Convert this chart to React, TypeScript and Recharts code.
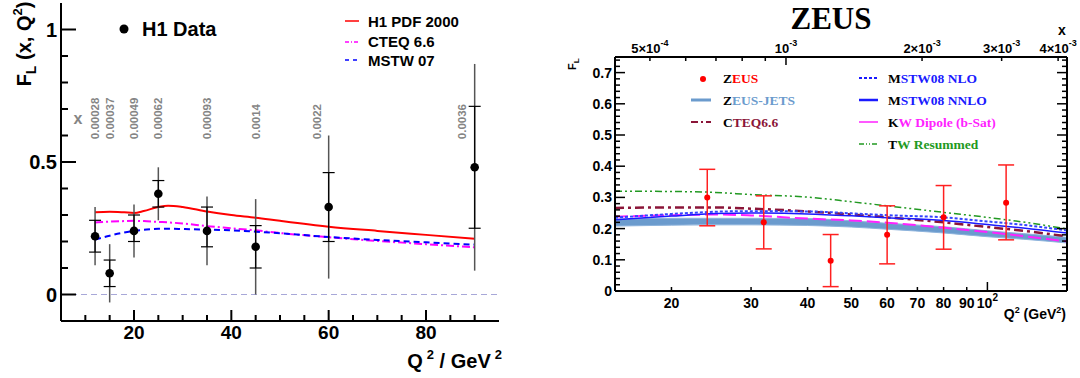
import React from "react"
import { Area, ComposedChart, ErrorBar, Line, ReferenceLine, Scatter, XAxis, YAxis } from "recharts"

const SANS = '"Liberation Sans", Arial, Helvetica, sans-serif'
const SERIF = '"Liberation Serif", "Times New Roman", serif'

// ---------- H1 panel ----------
const h1Q2 = [12, 15, 20, 25, 35, 45, 60, 90]
const h1FL = [0.22, 0.08, 0.24, 0.38, 0.24, 0.18, 0.33, 0.48]
const h1TotLow = [0.11, -0.03, 0.14, 0.28, 0.11, 0.0, 0.06, 0.09]
const h1TotHigh = [0.33, 0.19, 0.34, 0.48, 0.37, 0.36, 0.6, 0.87]
const h1StatLow = [0.16, 0.03, 0.2, 0.33, 0.18, 0.1, 0.2, 0.25]
const h1StatHigh = [0.28, 0.13, 0.3, 0.43, 0.33, 0.26, 0.46, 0.71]

const h1XText = ["0.00028", "0.00037", "0.00049", "0.00062", "0.00093", "0.0014", "0.0022", "0.0036"]
const h1XTextQ2 = [12, 15, 20, 25, 35, 45, 57.5, 87.3]
const h1XTextY = 0.586

const h1CurveQ2 = [12, 15, 18, 20, 22, 25, 27, 30, 35, 40, 45, 50, 60, 70, 80, 90]
const h1Pdf2000 = [0.31, 0.312, 0.31, 0.308, 0.315, 0.33, 0.335, 0.33, 0.313, 0.3, 0.29, 0.278, 0.256, 0.24, 0.225, 0.21]
const h1Cteq66 = [0.272, 0.275, 0.277, 0.278, 0.277, 0.274, 0.272, 0.268, 0.258, 0.25, 0.242, 0.232, 0.216, 0.202, 0.19, 0.178]
const h1Mstw07 = [0.207, 0.222, 0.234, 0.24, 0.244, 0.248, 0.248, 0.247, 0.245, 0.242, 0.237, 0.231, 0.217, 0.206, 0.197, 0.188]

const h1XTicks = [10, 15, 20, 25, 30, 35, 40, 45, 50, 55, 60, 65, 70, 75, 80, 85, 90]
const h1XMajor = [20, 40, 60, 80]
const h1YTicks = [0, 0.1, 0.2, 0.3, 0.4, 0.5, 0.6, 0.7, 0.8, 0.9, 1]
const h1YMajor = [0, 0.5, 1]
const h1YLabels = ["0", "0.5", "1"]

// ---------- ZEUS panel ----------
const zeusQ2 = [24, 32, 45, 60, 80, 110]
const zeusFL = [0.3, 0.22, 0.097, 0.18, 0.236, 0.283]
const zeusLow = [0.209, 0.135, 0.014, 0.087, 0.134, 0.164]
const zeusHigh = [0.39, 0.305, 0.181, 0.273, 0.338, 0.404]

const thQ2 = [15, 20, 25, 30, 40, 50, 60, 80, 100, 120, 150]
const jetsLow = [0.208, 0.211, 0.212, 0.212, 0.21, 0.205, 0.198, 0.186, 0.174, 0.166, 0.154]
const jetsHigh = [0.23, 0.233, 0.233, 0.233, 0.232, 0.225, 0.217, 0.206, 0.193, 0.184, 0.172]
const cteq66 = [0.266, 0.268, 0.268, 0.264, 0.255, 0.245, 0.236, 0.22, 0.205, 0.193, 0.175]
const mstwNlo = [0.235, 0.247, 0.254, 0.256, 0.255, 0.249, 0.243, 0.236, 0.223, 0.212, 0.194]
const mstwNnlo = [0.228, 0.24, 0.248, 0.25, 0.247, 0.241, 0.235, 0.226, 0.213, 0.202, 0.186]
const kwDipole = [0.238, 0.243, 0.245, 0.242, 0.232, 0.226, 0.219, 0.203, 0.189, 0.176, 0.159]
const twResummed = [0.32, 0.319, 0.316, 0.309, 0.301, 0.286, 0.273, 0.252, 0.236, 0.221, 0.199]

const zeusXTicks = [20, 30, 40, 50, 60, 70, 80, 90, 100]
const zeusXLabels = ["20", "30", "40", "50", "60", "70", "80", "90", "10"]
const zeusYMajor = [0, 0.1, 0.2, 0.3, 0.4, 0.5, 0.6, 0.7]
const zeusYLabels = ["0", "0.1", "0.2", "0.3", "0.4", "0.5", "0.6", "0.7"]
const zeusYTicks = Array.from({ length: 38 }, (_, i) => (i * 2) / 100)

// top axis: Bjorken x at fixed inelasticity, x = Q2 / 35840
const q2PerX = 35840
const topX = [5e-4, 6e-4, 7e-4, 8e-4, 9e-4, 1e-3, 2e-3, 3e-3, 4e-3]
const topXBase = ["5\u00d710", "", "", "", "", "10", "2\u00d710", "3\u00d710", "4\u00d710"]
const topXExp = ["-4", "", "", "", "", "-3", "-3", "-3", "-3"]

// tables built from the arrays
const h1Points = h1Q2.map((q2, i) => ({
  q2,
  f: h1FL[i],
  tot: [h1FL[i] - h1TotLow[i], h1TotHigh[i] - h1FL[i]],
  stat: [h1FL[i] - h1StatLow[i], h1StatHigh[i] - h1FL[i]],
}))
const h1Curves = h1CurveQ2.map((q2, i) => ({ q2, pdf: h1Pdf2000[i], cteq: h1Cteq66[i], mstw: h1Mstw07[i] }))
const h1Notes = h1XTextQ2.map((q2, i) => ({ q2, y: h1XTextY, text: h1XText[i] }))

const zeusPoints = zeusQ2.map((q2, i) => ({ q2, f: zeusFL[i], err: [zeusFL[i] - zeusLow[i], zeusHigh[i] - zeusFL[i]] }))
const zeusCurves = thQ2.map((q2, i) => ({
  q2,
  band: [jetsLow[i], jetsHigh[i]],
  cteq: cteq66[i],
  nlo: mstwNlo[i],
  nnlo: mstwNnlo[i],
  kw: kwDipole[i],
  tw: twResummed[i],
}))

const axisStroke = { stroke: "#000", strokeWidth: 2 }
const near = (a: number, b: number) => Math.abs(a - b) < 1e-6

function H1YTick(props: any) {
  const { x, y, payload } = props
  const k = h1YMajor.findIndex((m) => near(m, payload.value))
  return (
    <g>
      <line x1={x} y1={y} x2={x + (k >= 0 ? 15 : 7)} y2={y} stroke="#000" strokeWidth={2} />
      {k >= 0 && (
        <text x={x - 4} y={y + 7} textAnchor="end" fontFamily={SANS} fontWeight="bold" fontSize={20} fill="#000">
          {h1YLabels[k]}
        </text>
      )}
    </g>
  )
}

function H1XTick(props: any) {
  const { x, y, payload } = props
  const major = h1XMajor.includes(payload.value)
  return (
    <g>
      <line x1={x} y1={y} x2={x} y2={y - (major ? 11 : 6)} stroke="#000" strokeWidth={2} />
      {major && (
        <text x={x} y={y + 18} textAnchor="middle" fontFamily={SANS} fontWeight="bold" fontSize={19} fill="#000">
          {payload.value}
        </text>
      )}
    </g>
  )
}

function ZeusYTick(props: any) {
  const { x, y, payload } = props
  const k = zeusYMajor.findIndex((m) => near(m, payload.value))
  return (
    <g>
      <line x1={x} y1={y} x2={x + (k >= 0 ? 10 : 5)} y2={y} stroke="#000" strokeWidth={1.5} />
      {k >= 0 && (
        <text x={x - 3} y={y + 5} textAnchor="end" fontFamily={SANS} fontWeight="bold" fontSize={14} fill="#000">
          {zeusYLabels[k]}
        </text>
      )}
    </g>
  )
}

function ZeusRightTick(props: any) {
  const { x, y, payload } = props
  const major = zeusYMajor.some((m) => near(m, payload.value))
  return <line x1={x} y1={y} x2={x - (major ? 10 : 5)} y2={y} stroke="#000" strokeWidth={1.5} />
}

function ZeusXTick(props: any) {
  const { x, y, payload, index } = props
  const decade = payload.value === 100
  return (
    <g>
      <line x1={x} y1={y} x2={x} y2={y - (decade ? 9 : 4)} stroke="#000" strokeWidth={1.5} />
      <text x={x} y={y + 17} textAnchor="middle" fontFamily={SANS} fontWeight="bold" fontSize={14} fill="#000">
        {zeusXLabels[index]}
        {decade && (
          <tspan fontSize={10} dy={-7}>
            2
          </tspan>
        )}
      </text>
    </g>
  )
}

function ZeusTopTick(props: any) {
  const { x, y, index } = props
  const base = topXBase[index]
  const long = topX[index] === 1e-3
  return (
    <g>
      <line x1={x} y1={y} x2={x} y2={y + (long ? 8 : 4)} stroke="#000" strokeWidth={1.5} />
      {base && (
        <text x={x} y={y - 4} textAnchor="middle" fontFamily={SANS} fontWeight="bold" fontSize={13} fill="#000">
          {base}
          <tspan fontSize={9} dy={-7}>
            {topXExp[index]}
          </tspan>
        </text>
      )}
    </g>
  )
}

function H1Panel() {
  return (
    <ComposedChart width={540} height={378} margin={{ top: 3, right: 41, bottom: 0, left: 0 }}>
      <XAxis
        dataKey="q2"
        type="number"
        domain={[5, 95]}
        allowDataOverflow
        ticks={h1XTicks}
        interval={0}
        tickSize={0}
        tickMargin={0}
        tickLine={false}
        tick={<H1XTick />}
        axisLine={axisStroke}
        height={57}
      />
      <XAxis
        xAxisId="top"
        dataKey="q2"
        orientation="top"
        type="number"
        domain={[5, 95]}
        allowDataOverflow
        height={0}
        tick={false}
        tickLine={false}
        axisLine={axisStroke}
      />
      <YAxis
        type="number"
        domain={[-0.1, 1.1]}
        allowDataOverflow
        ticks={h1YTicks}
        interval={0}
        tickSize={0}
        tickMargin={0}
        tickLine={false}
        tick={<H1YTick />}
        axisLine={axisStroke}
        width={61}
      />
      <YAxis yAxisId="right" orientation="right" type="number" domain={[-0.1, 1.1]} allowDataOverflow width={0} tick={false} tickLine={false} axisLine={axisStroke} />
      {/* invisible series so the frame axes get registered */}
      <Line xAxisId="top" yAxisId="right" data={h1Curves} dataKey="pdf" stroke="none" dot={false} activeDot={false} legendType="none" isAnimationActive={false} />
      <ReferenceLine y={0} stroke="#a8a8d8" strokeDasharray="6 4" strokeWidth={1} />
      <Line data={h1Curves} dataKey="pdf" type="monotone" stroke="#ff0000" strokeWidth={2} dot={false} activeDot={false} isAnimationActive={false} />
      <Line data={h1Curves} dataKey="cteq" type="monotone" stroke="#ff00ff" strokeWidth={2} strokeDasharray="8 3 2 3" dot={false} activeDot={false} isAnimationActive={false} />
      <Line data={h1Curves} dataKey="mstw" type="monotone" stroke="#0000ff" strokeWidth={2} strokeDasharray="6 4" dot={false} activeDot={false} isAnimationActive={false} />
      <Scatter
        data={h1Notes}
        dataKey="y"
        isAnimationActive={false}
        shape={(p: any) => (
          <text
            transform={`translate(${p.cx + 4},${p.cy}) rotate(-90)`}
            fontFamily={SANS}
            fontWeight="bold"
            fontSize={11.5}
            fill="#858585"
          >
            {p.payload.text}
          </text>
        )}
      />
      <Scatter
        data={h1Points}
        dataKey="f"
        isAnimationActive={false}
        shape={(p: any) => <circle cx={p.cx} cy={p.cy} r={4.3} fill="#000" />}
      >
        <ErrorBar dataKey="tot" direction="y" width={0} stroke="#555" strokeWidth={1.5} isAnimationActive={false} />
        <ErrorBar dataKey="stat" direction="y" width={6} stroke="#000" strokeWidth={1.2} isAnimationActive={false} />
      </Scatter>
    </ComposedChart>
  )
}

function ZeusPanel() {
  return (
    <ComposedChart width={540} height={378} margin={{ top: 0, right: 0, bottom: 0, left: 0 }}>
      <XAxis
        dataKey="q2"
        type="number"
        scale="log"
        domain={[15, 150]}
        allowDataOverflow
        ticks={zeusXTicks}
        interval={0}
        tickSize={0}
        tickMargin={0}
        tickLine={false}
        tick={<ZeusXTick />}
        axisLine={axisStroke}
        height={87}
      />
      <XAxis
        xAxisId="top"
        dataKey="q2"
        orientation="top"
        type="number"
        scale="log"
        domain={[15, 150]}
        allowDataOverflow
        ticks={topX.map((v) => v * q2PerX)}
        interval={0}
        tickSize={0}
        tickMargin={0}
        tickLine={false}
        tick={<ZeusTopTick />}
        axisLine={axisStroke}
        height={57}
      />
      <YAxis
        type="number"
        domain={[0, 0.75]}
        allowDataOverflow
        ticks={zeusYTicks}
        interval={0}
        tickSize={0}
        tickMargin={0}
        tickLine={false}
        tick={<ZeusYTick />}
        axisLine={axisStroke}
        width={75}
      />
      <YAxis
        yAxisId="right"
        orientation="right"
        type="number"
        domain={[0, 0.75]}
        allowDataOverflow
        ticks={zeusYTicks}
        interval={0}
        tickSize={0}
        tickMargin={0}
        tickLine={false}
        tick={<ZeusRightTick />}
        axisLine={axisStroke}
        width={13}
      />
      {/* invisible series so the frame axes get registered */}
      <Line xAxisId="top" yAxisId="right" data={zeusCurves} dataKey="tw" stroke="none" dot={false} activeDot={false} legendType="none" isAnimationActive={false} />
      <Area data={zeusCurves} dataKey="band" type="monotone" stroke="#8db3dc" strokeWidth={1} fill="#6b9bcd" fillOpacity={1} dot={false} activeDot={false} isAnimationActive={false} />
      <Line data={zeusCurves} dataKey="kw" type="monotone" stroke="#ff22ff" strokeWidth={2} strokeDasharray="13 5" dot={false} activeDot={false} isAnimationActive={false} />
      <Line data={zeusCurves} dataKey="cteq" type="monotone" stroke="#8b1538" strokeWidth={2.5} strokeDasharray="9 4 3 4" dot={false} activeDot={false} isAnimationActive={false} />
      <Line data={zeusCurves} dataKey="nnlo" type="monotone" stroke="#1a1aff" strokeWidth={1.5} dot={false} activeDot={false} isAnimationActive={false} />
      <Line data={zeusCurves} dataKey="nlo" type="monotone" stroke="#3344ff" strokeWidth={2} strokeDasharray="3 2" dot={false} activeDot={false} isAnimationActive={false} />
      <Line data={zeusCurves} dataKey="tw" type="monotone" stroke="#229922" strokeWidth={1.5} strokeDasharray="7 3 2 3 2 3" dot={false} activeDot={false} isAnimationActive={false} />
      <Scatter
        data={zeusPoints}
        dataKey="f"
        isAnimationActive={false}
        shape={(p: any) => <circle cx={p.cx} cy={p.cy} r={3} fill="#ff0000" />}
      >
        <ErrorBar dataKey="err" direction="y" width={8} stroke="#ff2020" strokeWidth={1.5} isAnimationActive={false} />
      </Scatter>
    </ComposedChart>
  )
}

function ZLegendText({ x, y, first, rest, color }: { x: number; y: number; first: string; rest: string; color: string }) {
  return (
    <text x={x} y={y} fontFamily={SERIF} fontWeight="bold" fontSize={13.5} fill="#000">
      {first}
      <tspan fill={color}>{rest}</tspan>
    </text>
  )
}

function Overlay() {
  return (
    <svg width={1080} height={378} style={{ position: "absolute", left: 0, top: 0, pointerEvents: "none" }}>
      {/* H1 panel texts */}
      <text transform="translate(31,44) rotate(-90)" textAnchor="middle" fontFamily={SANS} fontWeight="bold" fontSize={20} fill="#000">
        F<tspan fontSize={14} dy={5}>L</tspan>
        <tspan dy={-5}> (x, Q</tspan>
        <tspan fontSize={13} dy={-9}>2</tspan>
        <tspan dy={9}>)</tspan>
      </text>
      <text x={502} y={368} textAnchor="end" fontFamily={SANS} fontWeight="bold" fontSize={20} fill="#000">
        Q<tspan fontSize={13} dx={4} dy={-9}>2</tspan>
        <tspan dy={9}> / GeV</tspan>
        <tspan fontSize={13} dx={4} dy={-9}>2</tspan>
      </text>
      <text x={78} y={124} textAnchor="middle" fontFamily={SANS} fontWeight="bold" fontSize={16} fill="#858585">
        x
      </text>
      <circle cx={124} cy={29} r={4.5} fill="#000" />
      <text x={142} y={36} fontFamily={SANS} fontWeight="bold" fontSize={20} fill="#000">
        H1 Data
      </text>
      <line x1={345} y1={21} x2={359} y2={21} stroke="#ff0000" strokeWidth={1.5} />
      <line x1={345} y1={42} x2={359} y2={42} stroke="#ff00ff" strokeWidth={1.5} strokeDasharray="4 2 1 2" />
      <line x1={345} y1={60} x2={359} y2={60} stroke="#0000ff" strokeWidth={1.5} strokeDasharray="4 4" />
      <text x={368} y={27} fontFamily={SANS} fontWeight="bold" fontSize={15} fill="#000">H1 PDF 2000</text>
      <text x={368} y={47} fontFamily={SANS} fontWeight="bold" fontSize={15} fill="#000">CTEQ 6.6</text>
      <text x={368} y={66} fontFamily={SANS} fontWeight="bold" fontSize={15} fill="#000">MSTW 07</text>

      {/* ZEUS panel texts */}
      <text x={831} y={29} textAnchor="middle" fontFamily={SERIF} fontWeight="bold" fontSize={31} fill="#000">
        ZEUS
      </text>
      <text x={1062} y={35} textAnchor="middle" fontFamily={SANS} fontWeight="bold" fontSize={14} fill="#000">
        x
      </text>
      <text transform="translate(576,70) rotate(-90)" fontFamily={SANS} fontWeight="bold" fontSize={11} fill="#000">
        F<tspan fontSize={8} dy={3}>L</tspan>
      </text>
      <text x={1066} y={319} textAnchor="end" fontFamily={SANS} fontWeight="bold" fontSize={14} fill="#000">
        Q<tspan fontSize={9} dy={-6}>2</tspan>
        <tspan dy={6}> (GeV</tspan>
        <tspan fontSize={9} dy={-6}>2</tspan>
        <tspan dy={6}>)</tspan>
      </text>

      <circle cx={703} cy={79} r={3} fill="#ff0000" />
      <ZLegendText x={723} y={83} first="Z" rest="EUS" color="#ff0000" />
      <line x1={691} y1={100} x2={711} y2={100} stroke="#6b9bcd" strokeWidth={3} />
      <ZLegendText x={723} y={105} first="Z" rest="EUS-JETS" color="#6b9bcd" />
      <line x1={691} y1={122} x2={711} y2={122} stroke="#8b1538" strokeWidth={2} strokeDasharray="7 3 2 3" />
      <ZLegendText x={723} y={127} first="C" rest="TEQ6.6" color="#8b1538" />

      <line x1={859} y1={78} x2={878} y2={78} stroke="#1a1aff" strokeWidth={2} strokeDasharray="3 2" />
      <ZLegendText x={888} y={83} first="M" rest="STW08 NLO" color="#1a1aff" />
      <line x1={859} y1={100} x2={878} y2={100} stroke="#1a1aff" strokeWidth={2.5} />
      <ZLegendText x={888} y={105} first="M" rest="STW08 NNLO" color="#1a1aff" />
      <line x1={859} y1={122} x2={878} y2={122} stroke="#ff22ff" strokeWidth={1.5} />
      <ZLegendText x={888} y={127} first="K" rest="W Dipole (b-Sat)" color="#ff22ff" />
      <line x1={859} y1={144} x2={878} y2={144} stroke="#229922" strokeWidth={1.5} strokeDasharray="5 2 1 2 1 2" />
      <ZLegendText x={888} y={149} first="T" rest="W Resummed" color="#229922" />
    </svg>
  )
}

export default function App() {
  return (
    <div style={{ position: "fixed", left: 0, top: 0, width: 1080, height: 378, background: "#fff", overflow: "hidden" }}>
      <div style={{ position: "absolute", left: 0, top: 0 }}>
        <H1Panel />
      </div>
      <div style={{ position: "absolute", left: 540, top: 0 }}>
        <ZeusPanel />
      </div>
      <Overlay />
    </div>
  )
}
